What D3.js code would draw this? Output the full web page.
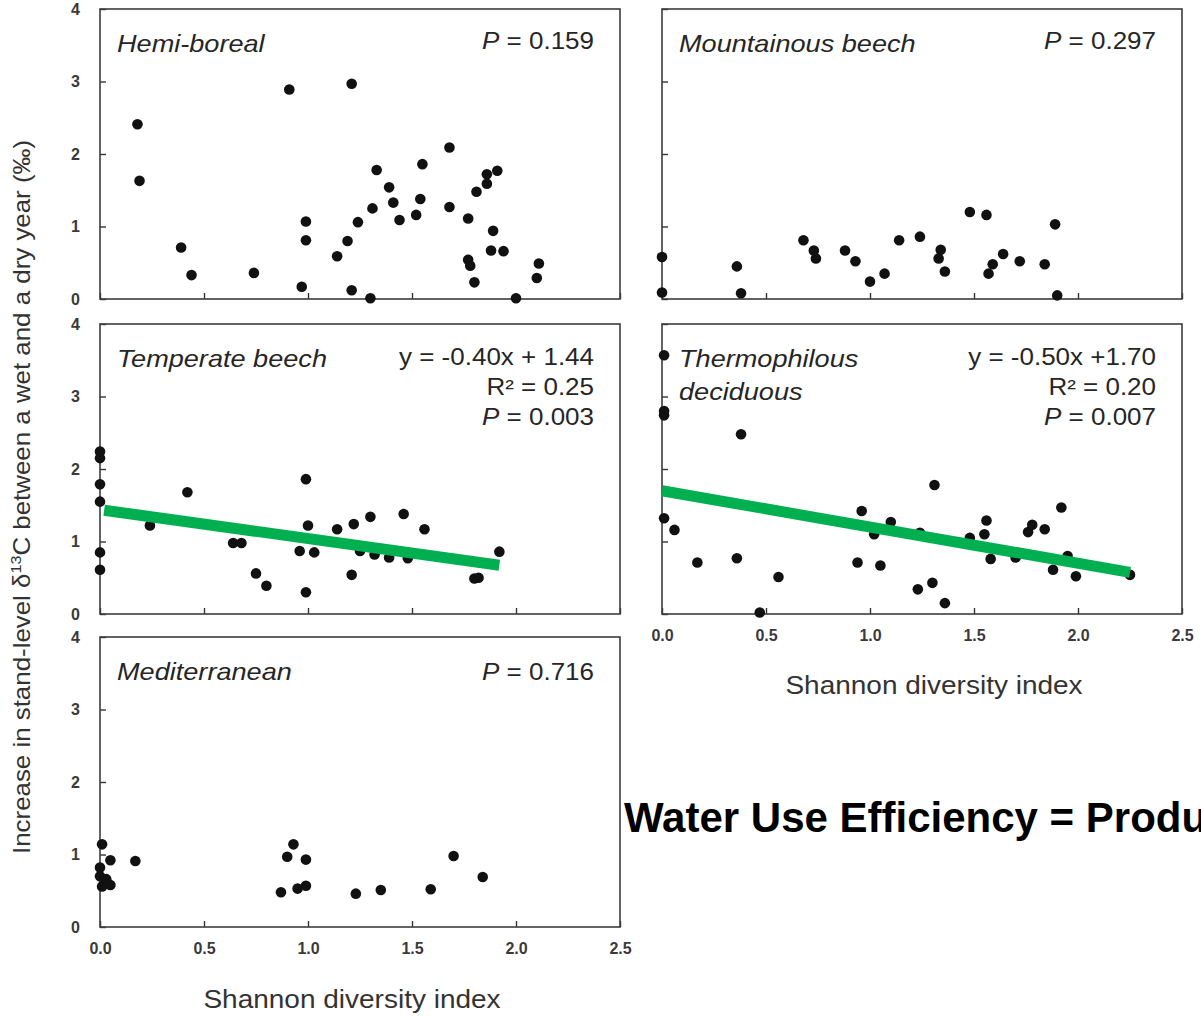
<!DOCTYPE html>
<html>
<head>
<meta charset="utf-8">
<script src="https://cdn.jsdelivr.net/npm/d3@7"></script>
<style>
  body { margin: 0; background: #fff; }
  text { font-family: "Liberation Sans", Arial, sans-serif; fill: #262626; }
</style>
</head>
<body>
<div id="fig"></div>
<script>
// panel names and stats
var panelNames = [["Hemi-boreal"], ["Mountainous beech"], ["Temperate beech"], ["Thermophilous", "deciduous"], ["Mediterranean"]];
var panelStats = [
  [["", "P", " = 0.159"]],
  [["", "P", " = 0.297"]],
  [["y = -0.40x + 1.44", "", ""], ["R\u00b2 = 0.25", "", ""], ["", "P", " = 0.003"]],
  [["y = -0.50x +1.70", "", ""], ["R\u00b2 = 0.20", "", ""], ["", "P", " = 0.007"]],
  [["", "P", " = 0.716"]]
];
var xTicks = [0, 0.5, 1.0, 1.5, 2.0, 2.5];
var yTicks = [0, 1, 2, 3, 4];

// Hemi-boreal
var hemiX = [0.18,0.19,0.39,0.44,0.74,0.91,0.97,0.99,0.99,1.14,1.19,1.21,1.21,1.24,1.30,1.31,1.33,1.39,1.41,1.44,1.52,1.54,1.55,1.68,1.68,1.77,1.77,1.78,1.80,1.81,1.86,1.86,1.91,1.89,1.88,1.94,2.00,2.11,2.10];
var hemiY = [2.41,1.63,0.71,0.33,0.36,2.89,0.17,1.07,0.81,0.59,0.80,2.97,0.12,1.06,0.01,1.25,1.78,1.54,1.33,1.09,1.16,1.38,1.86,2.09,1.27,1.11,0.54,0.46,0.23,1.48,1.72,1.59,1.77,0.94,0.67,0.66,0.01,0.49,0.29];
// Mountainous beech
var mountX = [0.00,0.00,0.36,0.38,0.68,0.73,0.74,0.88,0.93,1.00,1.07,1.14,1.24,1.34,1.33,1.36,1.48,1.56,1.59,1.57,1.64,1.72,1.84,1.89,1.90];
var mountY = [0.58,0.09,0.45,0.08,0.81,0.67,0.56,0.67,0.52,0.24,0.35,0.81,0.86,0.68,0.56,0.38,1.20,1.16,0.48,0.35,0.62,0.52,0.48,1.03,0.05];
// Temperate beech
var tempX = [0.00,0.00,0.00,0.00,0.00,0.00,0.24,0.42,0.64,0.68,0.75,0.80,0.96,0.99,1.00,1.03,0.99,1.14,1.21,1.22,1.30,1.25,1.32,1.39,1.46,1.48,1.56,1.80,1.82,1.92];
var tempY = [2.24,2.15,1.79,1.55,0.85,0.61,1.22,1.68,0.98,0.98,0.56,0.39,0.87,1.86,1.22,0.85,0.30,1.17,0.54,1.24,1.34,0.87,0.82,0.78,1.38,0.77,1.17,0.49,0.50,0.86];
// Thermophilous deciduous
var thermoX = [0.01,0.01,0.01,0.38,0.01,0.06,0.17,0.36,0.56,0.47,0.96,1.02,1.10,0.94,1.05,1.23,1.30,1.31,1.24,1.36,1.48,1.55,1.56,1.58,1.70,1.76,1.78,1.84,1.92,1.88,1.95,1.99,2.25];
var thermoY = [3.57,2.80,2.74,2.48,1.32,1.16,0.71,0.77,0.51,0.02,1.42,1.10,1.27,0.71,0.67,0.34,0.43,1.78,1.12,0.15,1.05,1.10,1.29,0.76,0.78,1.13,1.23,1.17,1.47,0.61,0.80,0.52,0.54];
// Mediterranean
var mediX = [0.01,0.05,0.17,0.00,0.00,0.01,0.03,0.05,0.03,0.90,0.93,0.99,0.87,0.95,0.99,1.23,1.35,1.59,1.70,1.84];
var mediY = [1.14,0.92,0.91,0.82,0.70,0.56,0.62,0.58,0.66,0.97,1.14,0.93,0.48,0.53,0.57,0.46,0.51,0.52,0.98,0.69];

// regression lines: [slope, intercept], [xmin, xmax]
var tempFit = [-0.40, 1.44], tempRange = [0.02, 1.92];
var thermoFit = [-0.50, 1.70], thermoRange = [0.0, 2.25];

var W = 1201, H = 1016;
var pw = 520, ph = 290;
var colX = [100, 662], rowY = [9, 324, 637];
var sx = 1.13; // text in the figure is a bit wide

var panels = [
  {xs: hemiX, ys: hemiY, col: 0, row: 0, showX: false, showY: true},
  {xs: mountX, ys: mountY, col: 1, row: 0, showX: false, showY: false},
  {xs: tempX, ys: tempY, col: 0, row: 1, showX: false, showY: true, fit: tempFit, range: tempRange},
  {xs: thermoX, ys: thermoY, col: 1, row: 1, showX: true, showY: false, fit: thermoFit, range: thermoRange},
  {xs: mediX, ys: mediY, col: 0, row: 2, showX: true, showY: true}
];

var svg = d3.select("#fig").append("svg")
  .attr("width", W)
  .attr("height", H);

var x = d3.scaleLinear().domain([0, 2.5]).range([0, pw]);
var y = d3.scaleLinear().domain([0, 4]).range([ph, 0]);

panels.forEach(function(p, i) {
  var g = svg.append("g")
    .attr("transform", "translate(" + colX[p.col] + "," + rowY[p.row] + ")");

  var xa = g.append("g")
    .attr("transform", "translate(0," + ph + ")")
    .call(d3.axisBottom(x).tickValues(xTicks).tickSize(-6).tickSizeOuter(0).tickPadding(16)
      .tickFormat(p.showX ? d3.format(".1f") : ""));
  var ya = g.append("g")
    .call(d3.axisLeft(y).tickValues(yTicks).tickSize(-6).tickSizeOuter(0).tickPadding(20)
      .tickFormat(p.showY ? d3.format("d") : ""));
  [xa, ya].forEach(function(a) {
    a.select(".domain").remove();
    a.selectAll("line").attr("stroke", "#333").attr("stroke-width", 1.4);
    a.selectAll("text")
      .style("font-size", "16px")
      .style("font-weight", "bold")
      .style("fill", "#3a3a3a");
  });

  g.append("rect")
    .attr("width", pw).attr("height", ph)
    .attr("fill", "none")
    .attr("stroke", "#3c3c3c")
    .attr("stroke-width", 1.6);

  var pts = p.xs.map(function(v, k) { return [v, p.ys[k]]; });
  g.selectAll("circle.dot").data(pts).enter().append("circle")
    .attr("class", "dot")
    .attr("cx", function(d) { return x(d[0]); })
    .attr("cy", function(d) { return y(d[1]); })
    .attr("r", 5.3)
    .attr("fill", "#111");

  if (p.fit) {
    var f = p.fit;
    g.append("path")
      .datum(p.range.map(function(v) { return [v, f[0] * v + f[1]]; }))
      .attr("d", d3.line().x(function(d) { return x(d[0]); }).y(function(d) { return y(d[1]); }))
      .attr("stroke", "#00B050")
      .attr("stroke-width", 11)
      .attr("fill", "none");
  }

  panelNames[i].forEach(function(t, k) {
    g.append("text")
      .attr("transform", "translate(17," + (43 + k * 33) + ") scale(" + sx + ",1)")
      .style("font-size", "24px")
      .style("font-style", "italic")
      .text(t);
  });

  var stats = panelStats[i];
  var base = stats.length > 1 ? 41 : (p.row == 2 ? 43 : 40);
  stats.forEach(function(s, k) {
    var t = g.append("text")
      .attr("transform", "translate(" + (pw - 26) + "," + (base + k * 30) + ") scale(" + sx + ",1)")
      .attr("text-anchor", "end")
      .style("font-size", "23px");
    if (s[0]) t.append("tspan").text(s[0]);
    if (s[1]) t.append("tspan").style("font-style", "italic").text(s[1]);
    if (s[2]) t.append("tspan").text(s[2]);
  });
});

// axis titles
var xTitleSpots = [[colX[1] + pw / 2 + 12, 694], [colX[0] + pw / 2 - 8, 1008]];
xTitleSpots.forEach(function(s) {
  svg.append("text")
    .attr("transform", "translate(" + s[0] + "," + s[1] + ") scale(1.12,1)")
    .attr("text-anchor", "middle")
    .style("font-size", "25px")
    .style("fill", "#333")
    .text("Shannon diversity index");
});

var yt = svg.append("text")
  .attr("transform", "translate(30,497) rotate(-90)")
  .attr("text-anchor", "middle")
  .attr("textLength", 714)
  .attr("lengthAdjust", "spacingAndGlyphs")
  .style("font-size", "24px")
  .style("fill", "#333");
yt.append("tspan").text("Increase in stand-level \u03b4");
yt.append("tspan").attr("dy", -9).style("font-size", "15px").text("13");
yt.append("tspan").attr("dy", 9).text("C between a wet and a dry year (\u2030)");

svg.append("text")
  .attr("x", 624)
  .attr("y", 832)
  .style("font-size", "42px")
  .style("font-weight", "bold")
  .style("fill", "#000")
  .text("Water Use Efficiency = Productivity / Water Use");
</script>
</body>
</html>
